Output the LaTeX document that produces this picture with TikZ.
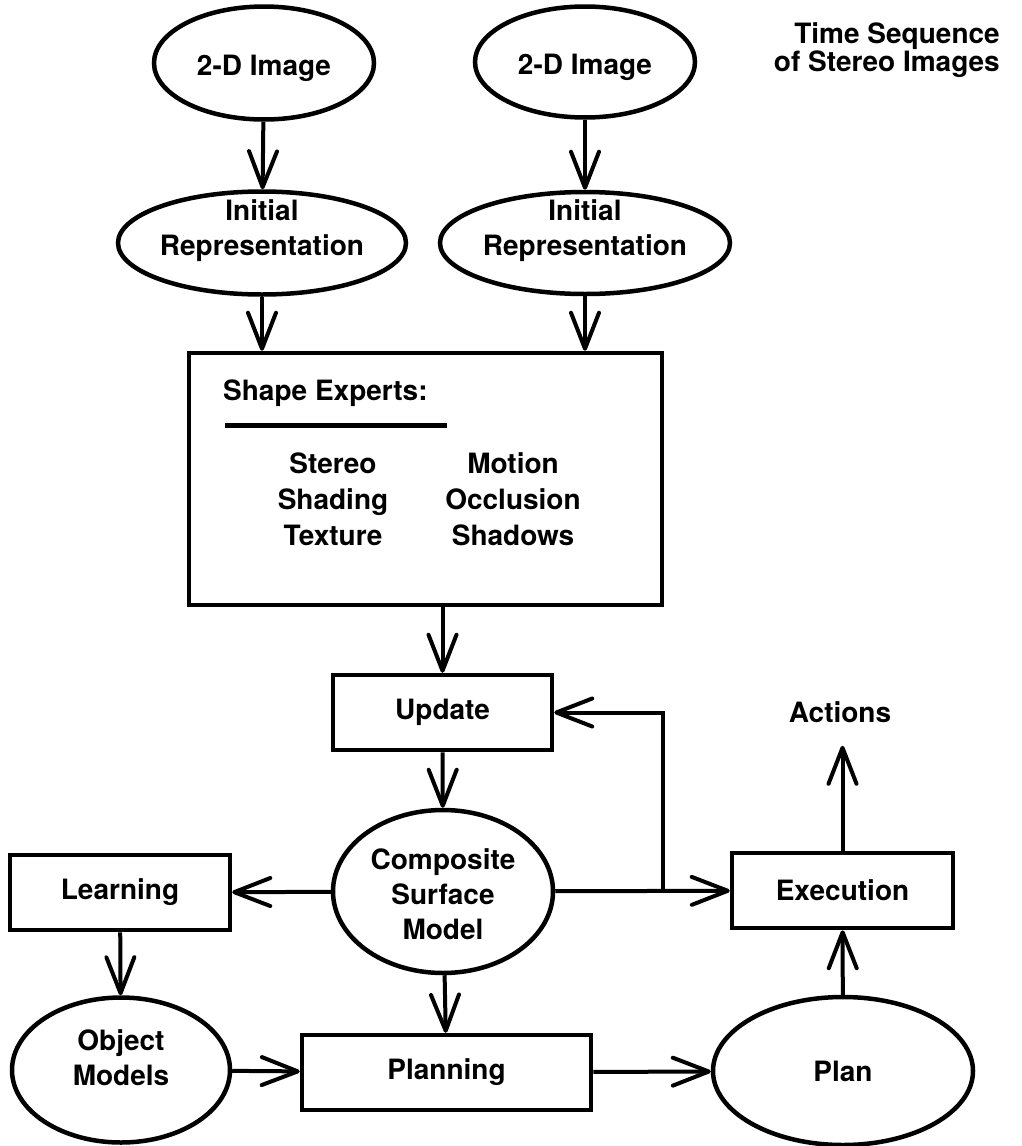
\documentclass[tikz,border=0pt]{standalone}
\usepackage{fontspec}
\setmainfont{TeX Gyre Heros}
\usetikzlibrary{shapes.geometric,arrows.meta,calc}
\begin{document}
\begin{tikzpicture}[x=1pt,y=-1pt,
  font=\fontsize{28}{35}\selectfont\bfseries,
  ell/.style={draw,ellipse,line width=4.5pt,inner sep=0pt},
  bx/.style={draw,rectangle,line width=4.5pt,inner sep=0pt},
  txt/.style={inner sep=0pt,align=center},
  arr/.style={line width=4pt,-{Straight Barb[length=36pt,width=28pt,round]}}
]
\useasboundingbox[fill=white] (0,0) rectangle (1022,1146);

% top row
\node[ell,minimum width=220pt,minimum height=113pt,
  label={[txt,yshift=-5pt]center:2-D Image}] (L1) at (264,63) {};
\node[ell,minimum width=220pt,minimum height=111pt,
  label={[txt,yshift=-5pt]center:2-D Image}] (R1) at (585,62) {};
\node[txt,anchor=east,font=\fontsize{28}{28}\selectfont\bfseries,align=right] (TS) at (1000,50) {Time Sequence\\of Stereo Images};

% initial representations
\node[ell,minimum width=288pt,minimum height=103pt,
  label={[txt,yshift=12pt]center:{Initial\\Representation}}] (L2) at (262,243) {};
\node[ell,minimum width=290pt,minimum height=102pt,
  label={[txt,yshift=12pt]center:{Initial\\Representation}}] (R2) at (585,243) {};

% shape experts box
\node[bx,minimum width=473pt,minimum height=252pt] (SE) at (425.5,479) {};
\node[txt,anchor=west] (SEt) at (223,393) {Shape Experts:};
\draw[line width=5pt] (225,425) -- (447,425);
\node[txt,font=\fontsize{28}{36}\selectfont\bfseries] (ColA) at (333,499) {Stereo\\Shading\\Texture};
\node[txt,font=\fontsize{28}{36}\selectfont\bfseries] (ColB) at (513,499) {Motion\\Occlusion\\Shadows};

% middle
\node[bx,minimum width=219pt,minimum height=75pt] (Upd) at (442.5,712.5) {Update};
\node[ell,minimum width=220pt,minimum height=163pt,
  label={[txt,yshift=-3pt]center:{Composite\\Surface\\Model}}] (Comp) at (443,891.5) {};
\node[bx,minimum width=220pt,minimum height=75pt] (Learn) at (120,892.5) {Learning};
\node[ell,minimum width=218pt,minimum height=145pt,
  label={[txt,yshift=12pt]center:{Object\\Models}}] (Obj) at (121,1070) {};
\node[bx,minimum width=289pt,minimum height=75pt] (Pln) at (446.5,1072.5) {Planning};
\node[ell,minimum width=260pt,minimum height=148pt] (Pl) at (843,1071) {Plan};
\node[bx,minimum width=221pt,minimum height=75pt] (Exe) at (842.5,890.5) {Execution};
\node[txt] (Act) at (840,712) {Actions};

\coordinate (J) at (663,891);
\coordinate (ActIn) at ($(Exe.north |- Act.south)+(0,23)$);

% connectors
\draw[arr] (L1) -- (L2);
\draw[arr] (R1) -- (R2);
\draw[arr] (L2) -- (L2 |- SE.north);
\draw[arr] (R2) -- (R2 |- SE.north);
\draw[arr] (SE.south -| Upd.north) -- (Upd.north);
\draw[arr] (Upd) -- (Comp);
\draw[arr] (Comp) -- (Learn);
\draw[arr] (Learn) -- (Obj);
\draw[arr] (Obj) -- (Pln);
\draw[arr] (Comp) -- (Pln);
\draw[arr] (Pln) -- (Pl);
\draw[arr] (Pl) -- (Exe);
\draw[arr] (Comp) -- (Exe);
\draw[arr] (J) |- (Upd.east);
\draw[arr] (Exe.north) -- (ActIn);
\end{tikzpicture}
\end{document}
